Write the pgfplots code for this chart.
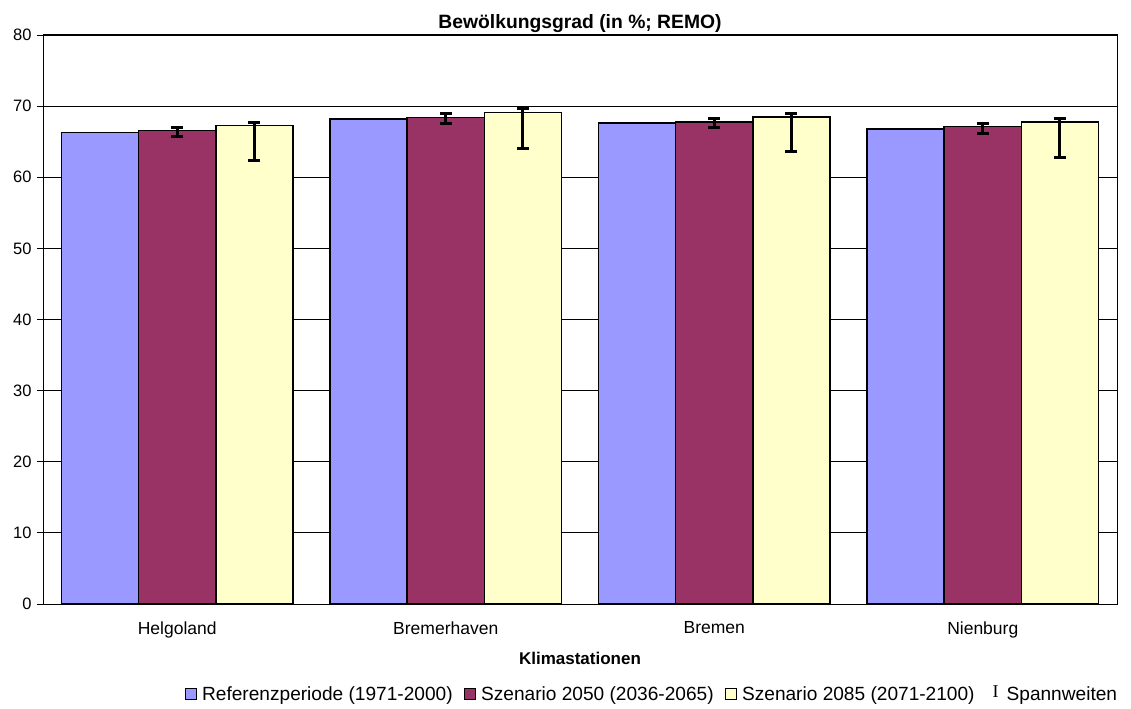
\documentclass[border=0pt]{standalone}
\usepackage{fontspec}
\setmainfont{Liberation Sans}
\newfontfamily\serifI{Liberation Serif}
\usepackage{pgfplots}
\pgfplotsset{compat=1.18}
\usepackage{pgfplotstable}
\usetikzlibrary{calc}
\definecolor{cref}{HTML}{9999FF}
\definecolor{cfifty}{HTML}{993366}
\definecolor{ceighty}{HTML}{FFFFCC}

\pgfplotstableread{
x ref  sA    sAp  sAm  sB    sBp  sBm
0 66.3 66.6  0.4  0.9  67.3  0.4  4.9
1 68.2 68.4  0.5  0.8  69.1  0.5  5.0
2 67.6 67.8  0.5  0.85 68.5  0.45 4.9
3 66.8 67.1  0.45 0.9  67.75 0.5  4.95
}\datatable

\begin{document}
\begin{tikzpicture}
\begin{axis}[
  scale only axis, width=1074pt, height=569pt,
  ybar=0pt, bar width=0.287,
  xmin=-0.5, xmax=3.5, ymin=0, ymax=80,
  xtick={0,1,2,3},
  xticklabels={Helgoland,Bremerhaven,Bremen,Nienburg},
  major x tick style={draw=none},
  extra x ticks={-0.5,0.5,1.5,2.5,3.5},
  extra x tick labels={},
  extra x tick style={grid=none, major tick style={draw=black, line width=0.8pt}},
  ytick={0,10,...,80},
  tick pos=left,
  tick align=outside,
  major tick length=6pt,
  ymajorgrids,
  grid style={black, line width=0.8pt},
  axis line style={black, line width=1pt},
  tick style={black, line width=0.8pt},
  /pgf/number format/assume math mode=true,
  xticklabel style={font=\fontsize{17.5}{20}\selectfont, yshift=-8pt},
  yticklabel style={font=\fontsize{16.5}{19}\selectfont, xshift=-2pt},
  title={Bewölkungsgrad (in \%; REMO)},
  title style={font=\bfseries\fontsize{19.3}{22}\selectfont, yshift=-7pt},
  xlabel={Klimastationen},
  xlabel style={font=\bfseries\fontsize{17}{20}\selectfont, yshift=5pt},
  legend style={at={(0.129,-0.139)}, anchor=north west, draw=none,
    font=\fontsize{19.1}{22}\selectfont, legend columns=-1,
    /tikz/every even column/.append style={column sep=10pt},
    nodes={inner sep=1pt}},
  error bars/y dir=both,
  error bars/y explicit,
  error bars/error bar style={line width=3pt, black},
  error bars/error mark options={rotate=90, mark size=6pt, line width=3pt, black},
]
\coordinate (sw) at (rel axis cs:0,0);
\coordinate (ne) at (rel axis cs:1,1);
\addplot[fill=cref, draw=black, line width=1.5pt,
  legend image code/.code={\path[draw=none,fill=none] (0pt,0pt) -- (16pt,0pt);\draw[fill=cref, draw=black, line width=0.8pt] (0pt,-5pt) rectangle (11pt,6pt);},
  error bars/y dir=none]
  table[x=x, y=ref] {\datatable};
\addlegendentry{Referenzperiode (1971-2000)}
\addplot[fill=cfifty, draw=black, line width=1.5pt,
  legend image code/.code={\path[draw=none,fill=none] (0pt,0pt) -- (16pt,0pt);\draw[fill=cfifty, draw=black, line width=0.8pt] (0pt,-5pt) rectangle (11pt,6pt);}]
  table[x=x, y=sA, y error plus=sAp, y error minus=sAm] {\datatable};
\addlegendentry{Szenario 2050 (2036-2065)}
\addplot[fill=ceighty, draw=black, line width=1.5pt,
  legend image code/.code={\path[draw=none,fill=none] (0pt,0pt) -- (16pt,0pt);\draw[fill=ceighty, draw=black, line width=0.8pt] (0pt,-5pt) rectangle (11pt,6pt);}]
  table[x=x, y=sB, y error plus=sBp, y error minus=sBm] {\datatable};
\addlegendentry{Szenario 2085 (2071-2100)}
\addlegendimage{legend image code/.code={\path[draw=none,fill=none] (0pt,0pt) -- (20pt,0pt);\node[inner sep=0pt, draw=none, font=\serifI\fontsize{18}{20}\selectfont] at (10pt,2pt) {I};}}
\addlegendentry{Spannweiten}
\end{axis}
\pgfresetboundingbox
\path[use as bounding box] ($(sw)+(-43pt,-104pt)$) rectangle ($(ne)+(14pt,35pt)$);
\end{tikzpicture}
\end{document}
